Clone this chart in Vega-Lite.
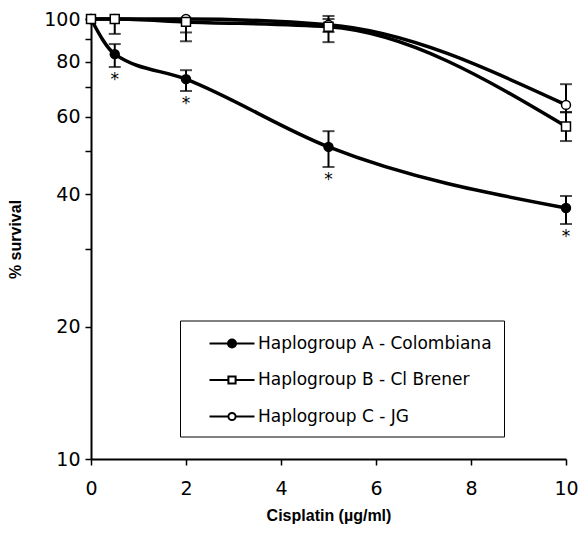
{
  "$schema": "https://vega.github.io/schema/vega-lite/v6.json",
  "width": 475,
  "height": 440,
  "autosize": {"type": "none"},
  "padding": {"left": 91, "top": 19, "right": 14, "bottom": 75},
  "background": "white",
  "config": {
    "view": {"stroke": null},
    "axis": {"grid": false, "domainColor": "black", "tickColor": "black", "labelColor": "black", "titleColor": "black", "domainWidth": 2, "tickWidth": 1.5}
  },
  "data": {
    "values": [
      {"series": "Haplogroup A - Colombiana", "x": 0, "y": 100, "lo": null, "hi": null, "sig": null},
      {"series": "Haplogroup A - Colombiana", "x": 0.5, "y": 83.2, "lo": 77.8, "hi": 87.7, "sig": "*"},
      {"series": "Haplogroup A - Colombiana", "x": 2, "y": 73.0, "lo": 68.6, "hi": 76.5, "sig": "*"},
      {"series": "Haplogroup A - Colombiana", "x": 5, "y": 51.2, "lo": 46.1, "hi": 55.6, "sig": "*"},
      {"series": "Haplogroup A - Colombiana", "x": 10, "y": 37.2, "lo": 34.2, "hi": 39.6, "sig": "*"},
      {"series": "Haplogroup C - JG", "x": 0, "y": 100, "lo": null, "hi": null, "sig": null},
      {"series": "Haplogroup C - JG", "x": 0.5, "y": 100, "lo": null, "hi": null, "sig": null},
      {"series": "Haplogroup C - JG", "x": 2, "y": 100, "lo": 93.2, "hi": 100, "sig": null},
      {"series": "Haplogroup C - JG", "x": 5, "y": 97, "lo": 93.4, "hi": 101.6, "sig": null},
      {"series": "Haplogroup C - JG", "x": 10, "y": 63.8, "lo": 61.4, "hi": 71.1, "sig": null},
      {"series": "Haplogroup B - Cl Brener", "x": 0, "y": 100, "lo": null, "hi": null, "sig": null},
      {"series": "Haplogroup B - Cl Brener", "x": 0.5, "y": 100, "lo": 92.5, "hi": 100, "sig": null},
      {"series": "Haplogroup B - Cl Brener", "x": 2, "y": 98.5, "lo": 89, "hi": 100, "sig": null},
      {"series": "Haplogroup B - Cl Brener", "x": 5, "y": 96, "lo": 88.6, "hi": 100, "sig": null},
      {"series": "Haplogroup B - Cl Brener", "x": 10, "y": 57, "lo": 52.8, "hi": 61.4, "sig": null}
    ]
  },
  "encoding": {
    "x": {
      "field": "x", "type": "quantitative",
      "scale": {"domain": [0, 10], "nice": false, "zero": false},
      "axis": {
        "values": [0, 2, 4, 6, 8, 10],
        "title": "Cisplatin (µg/ml)",
        "titleFont": "Liberation Sans", "titleFontWeight": "bold", "titleFontSize": 16, "titlePadding": 9,
        "labelFont": "DejaVu Sans", "labelFontSize": 19, "labelPadding": 14, "tickSize": 6, "labelFlush": false, "labelOverlap": false
      }
    }
  },
  "layer": [
    {
      "transform": [{"filter": "datum.lo != null"}],
      "mark": {"type": "rule", "color": "black", "strokeWidth": 2},
      "encoding": {
        "y": {"field": "lo", "type": "quantitative", "scale": {"type": "log", "domain": [10, 100], "nice": false}},
        "y2": {"field": "hi"}
      }
    },
    {
      "transform": [{"filter": "datum.lo != null"}],
      "mark": {"type": "tick", "orient": "horizontal", "color": "black", "size": 12, "thickness": 2},
      "encoding": {"y": {"field": "lo", "type": "quantitative"}}
    },
    {
      "transform": [{"filter": "datum.lo != null"}],
      "mark": {"type": "tick", "orient": "horizontal", "color": "black", "size": 12, "thickness": 2},
      "encoding": {"y": {"field": "hi", "type": "quantitative"}}
    },
    {
      "mark": {"type": "line", "color": "black", "strokeWidth": 3.5, "interpolate": "monotone"},
      "encoding": {
        "y": {
          "field": "y", "type": "quantitative",
          "axis": {
            "values": [10, 20, 30, 40, 50, 60, 70, 80, 90, 100],
            "format": "d",
            "labelExpr": "(datum.value == 10 || datum.value == 20 || datum.value == 40 || datum.value == 60 || datum.value == 80 || datum.value == 100) ? datum.label : ''",
            "title": "% survival",
            "titleFont": "Liberation Sans", "titleFontWeight": "bold", "titleFontSize": 16, "titlePadding": 20,
            "labelFont": "DejaVu Sans", "labelFontSize": 19, "labelPadding": 5, "tickSize": 6, "labelOverlap": false, "labelFlush": false
          }
        },
        "detail": {"field": "series"}
      }
    },
    {
      "mark": {"type": "point", "filled": true, "stroke": "black", "strokeWidth": 1.5, "size": 80, "opacity": 1},
      "encoding": {
        "y": {"field": "y", "type": "quantitative"},
        "shape": {
          "field": "series", "type": "nominal",
          "scale": {"domain": ["Haplogroup A - Colombiana", "Haplogroup B - Cl Brener", "Haplogroup C - JG"], "range": ["circle", "square", "circle"]},
          "legend": null
        },
        "fill": {
          "field": "series", "type": "nominal",
          "scale": {"domain": ["Haplogroup A - Colombiana", "Haplogroup B - Cl Brener", "Haplogroup C - JG"], "range": ["black", "white", "white"]},
          "legend": null
        }
      }
    },
    {
      "transform": [{"filter": "datum.x < 0"}],
      "mark": {"type": "point", "filled": true, "fill": "white", "stroke": "black", "strokeWidth": 2, "size": 400, "opacity": 1},
      "encoding": {
        "y": {"field": "y", "type": "quantitative"},
        "shape": {
          "field": "series", "type": "nominal",
          "scale": {
            "domain": ["Haplogroup A - Colombiana", "Haplogroup B - Cl Brener", "Haplogroup C - JG"],
            "range": [
              "M-2.25,0H-0.4M0.4,0H2.25M0.4,0A0.4,0.4,0,1,1,-0.4,0A0.4,0.4,0,1,1,0.4,0ZM0.3,0A0.3,0.3,0,1,1,-0.3,0A0.3,0.3,0,1,1,0.3,0ZM0.2,0A0.2,0.2,0,1,1,-0.2,0A0.2,0.2,0,1,1,0.2,0ZM0.1,0A0.1,0.1,0,1,1,-0.1,0A0.1,0.1,0,1,1,0.1,0Z",
              "M-2.25,0H-0.36M0.36,0H2.25M-0.36,-0.36H0.36V0.36H-0.36Z",
              "M-2.25,0H-0.36M0.36,0H2.25M0.36,0A0.36,0.36,0,1,1,-0.36,0A0.36,0.36,0,1,1,0.36,0Z"
            ]
          },
          "legend": {
            "orient": "none", "legendX": 89, "legendY": 301.5, "direction": "vertical",
            "title": null, "padding": 12, "strokeColor": "black", "fillColor": "white", "cornerRadius": 0,
            "symbolSize": 400, "symbolStrokeWidth": 2, "symbolOffset": 29, "labelOffset": 15, "rowPadding": 17.5,
            "labelFont": "DejaVu Sans", "labelFontSize": 17, "labelColor": "black", "labelLimit": 400
          }
        }
      }
    },
    {
      "transform": [{"filter": "datum.sig != null"}],
      "mark": {"type": "text", "baseline": "top", "dy": 5, "fontSize": 17, "font": "DejaVu Sans", "color": "black"},
      "encoding": {
        "y": {"field": "lo", "type": "quantitative"},
        "text": {"field": "sig"}
      }
    }
  ],
  "resolve": {"scale": {"y": "shared", "shape": "independent"}, "legend": {"shape": "independent"}}
}
